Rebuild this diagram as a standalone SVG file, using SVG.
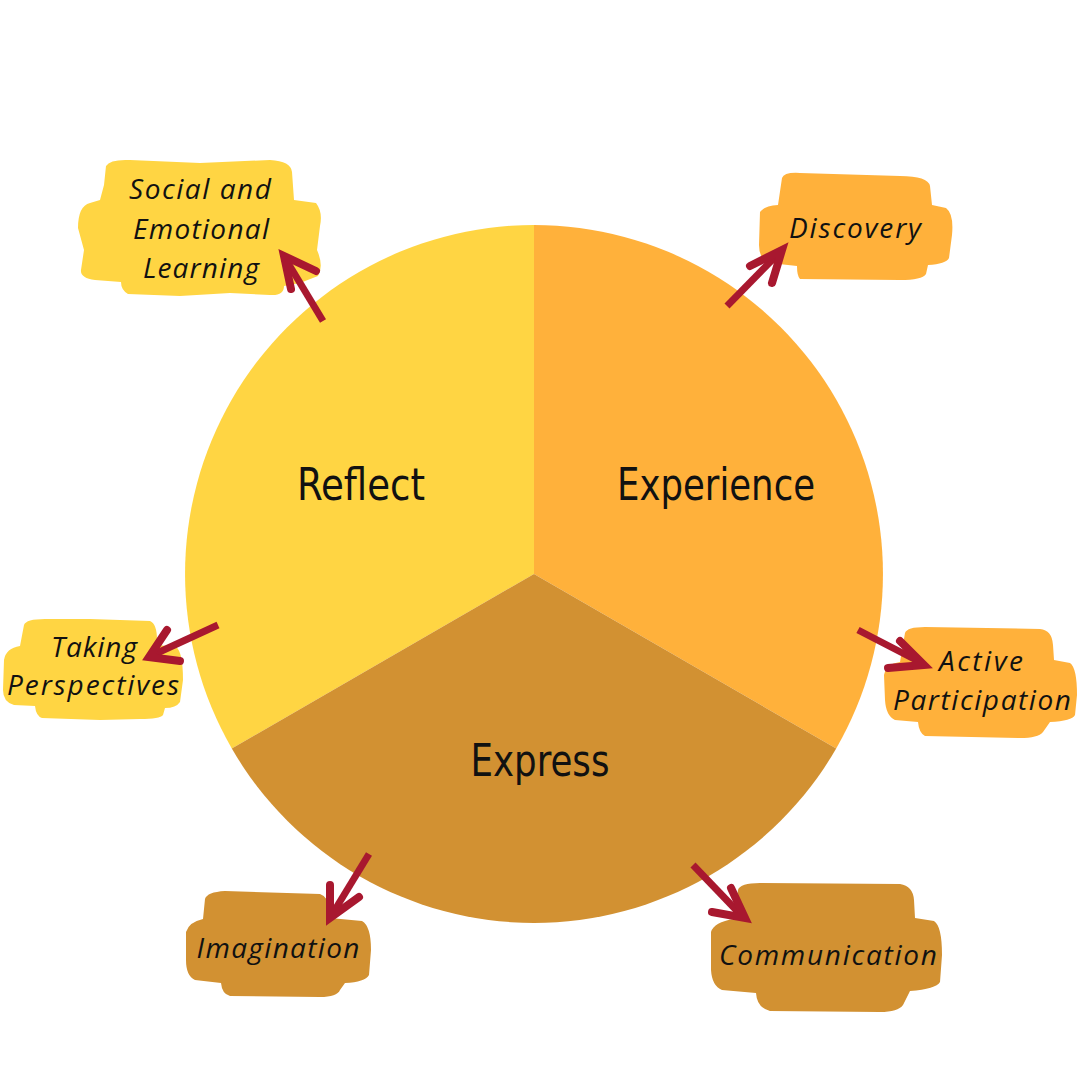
<svg xmlns="http://www.w3.org/2000/svg" width="1080" height="1080" viewBox="0 0 1080 1080">
<style>
.main{font-family:'DejaVu Sans Condensed','DejaVu Sans',sans-serif;font-stretch:condensed;font-size:44px;fill:#111;}
.lbl{font-family:'Open Sans','Liberation Sans',sans-serif;font-style:italic;font-size:28px;fill:#111;}
.yel{fill:#FFD543;}
.org{fill:#FFB13B;}
.brn{fill:#D29132;}
.shaft{stroke:#A8182F;stroke-width:7;fill:none;stroke-linecap:butt;}
.head{stroke:#A8182F;stroke-width:8;fill:none;stroke-linejoin:miter;stroke-linecap:round;}
</style>
<rect width="1080" height="1080" fill="#fff"/>
<g id="wheel">
<g id="reflect">
<path class="yel" d="M534,574 L534,225 A349,349 0 0 0 231.8,748.5 Z"/>
<text class="main" x="361" y="500" text-anchor="middle" textLength="128" lengthAdjust="spacingAndGlyphs">Reflect</text>
</g>
<g id="experience">
<path class="org" d="M534,574 L534,225 A349,349 0 0 1 836.2,748.5 Z"/>
<text class="main" x="716" y="500" text-anchor="middle" textLength="198" lengthAdjust="spacingAndGlyphs">Experience</text>
</g>
<g id="express">
<path class="brn" d="M534,574 L836.2,748.5 A349,349 0 0 1 231.8,748.5 Z"/>
<text class="main" x="540" y="776" text-anchor="middle" textLength="139" lengthAdjust="spacingAndGlyphs">Express</text>
</g>
</g>
<g id="sel">
<path class="yel" d="M106,166 Q110,159 130,160 L200,163 L270,160 Q291,161 292,172 L294,200 L316,203 Q323,212 320,226 L317,250 Q324,266 318,276 L300,283 L284,286 Q284,296 270,295 L230,293 L180,296 L128,294 Q121,290 121,282 L95,280 Q80,278 81,270 L84,250 L78,228 Q78,206 90,203 L100,200 L104,185 Z"/>
<text class="lbl" x="200" y="199" text-anchor="middle" textLength="142" lengthAdjust="spacing">Social and</text>
<text class="lbl" x="201" y="239" text-anchor="middle" textLength="136" lengthAdjust="spacing">Emotional</text>
<text class="lbl" x="201" y="278" text-anchor="middle" textLength="116" lengthAdjust="spacing">Learning</text>
</g>
<g id="discovery">
<path class="org" d="M782,178 Q784,172 800,173 L900,176 Q928,176 930,186 L932,205 L946,208 Q954,214 952,235 L949,258 Q946,264 928,265 L926,274 Q922,280 900,280 L800,279 Q797,276 797,266 L770,263 Q759,260 759,245 L760,212 Q764,206 778,205 Z"/>
<text class="lbl" x="855" y="238" text-anchor="middle" textLength="132" lengthAdjust="spacing">Discovery</text>
</g>
<g id="taking">
<path class="yel" d="M24,625 Q26,619 45,619 L90,619 L150,621 Q157,624 157,640 L158,645 L176,647 Q183,652 183,680 L180,702 Q176,708 165,708 L163,715 Q160,719 140,719 L100,720 L42,718 Q36,716 35,706 L14,705 Q3,702 3,690 L4,660 Q6,648 20,646 Z"/>
<text class="lbl" x="94" y="657" text-anchor="middle" textLength="86" lengthAdjust="spacing">Taking</text>
<text class="lbl" x="93" y="695" text-anchor="middle" textLength="172" lengthAdjust="spacing">Perspectives</text>
</g>
<g id="active">
<path class="org" d="M905,633 Q907,627 925,627 L1040,629 Q1052,630 1053,645 L1054,660 L1070,663 Q1077,668 1077,695 L1075,715 Q1072,721 1050,722 L1043,732 Q1038,738 1020,738 L925,736 Q919,733 918,722 L895,720 Q886,716 885,700 L884,675 Q886,664 900,662 Z"/>
<text class="lbl" x="981" y="671" text-anchor="middle" textLength="84" lengthAdjust="spacing">Active</text>
<text class="lbl" x="982" y="710" text-anchor="middle" textLength="178" lengthAdjust="spacing">Participation</text>
</g>
<g id="imagination">
<path class="brn" d="M205,899 Q207,892 225,891 L320,894 Q329,897 329,910 L330,918 L362,921 Q371,926 371,950 L369,975 Q365,982 345,983 L340,990 Q337,997 320,997 L230,996 Q222,994 221,983 L195,980 Q186,976 186,960 L186,932 Q189,922 203,919 Z"/>
<text class="lbl" x="278" y="958" text-anchor="middle" textLength="163" lengthAdjust="spacing">Imagination</text>
</g>
<g id="communication">
<path class="brn" d="M738,890 Q740,883 760,883 L900,884 Q913,886 914,900 L915,918 L934,921 Q942,926 942,955 L940,982 Q936,989 910,991 L903,1005 Q898,1012 880,1012 L770,1011 Q757,1008 756,993 L722,990 Q712,986 711,970 L711,932 Q714,922 734,919 Z"/>
<text class="lbl" x="828" y="965" text-anchor="middle" textLength="218" lengthAdjust="spacing">Communication</text>
</g>
<g id="connectors">
<path class="shaft" d="M323,321 L288,263"/>
<path class="head" d="M316,271 L284,256 L291,289"/>
<path class="shaft" d="M727,306 L778,254"/>
<path class="head" d="M750,266 L782,250 L772,283"/>
<path class="shaft" d="M218,625 L155,654"/>
<path class="head" d="M167,630 L149,657 L180,661"/>
<path class="shaft" d="M858,630 L918,661"/>
<path class="head" d="M900,641 L924,665 L888,668"/>
<path class="shaft" d="M369,854 L333,913"/>
<path class="head" d="M330,885 L330,918 L359,897"/>
<path class="shaft" d="M693,865 L740,914"/>
<path class="head" d="M731,888 L745,918 L712,912"/>
</g>
</svg>
